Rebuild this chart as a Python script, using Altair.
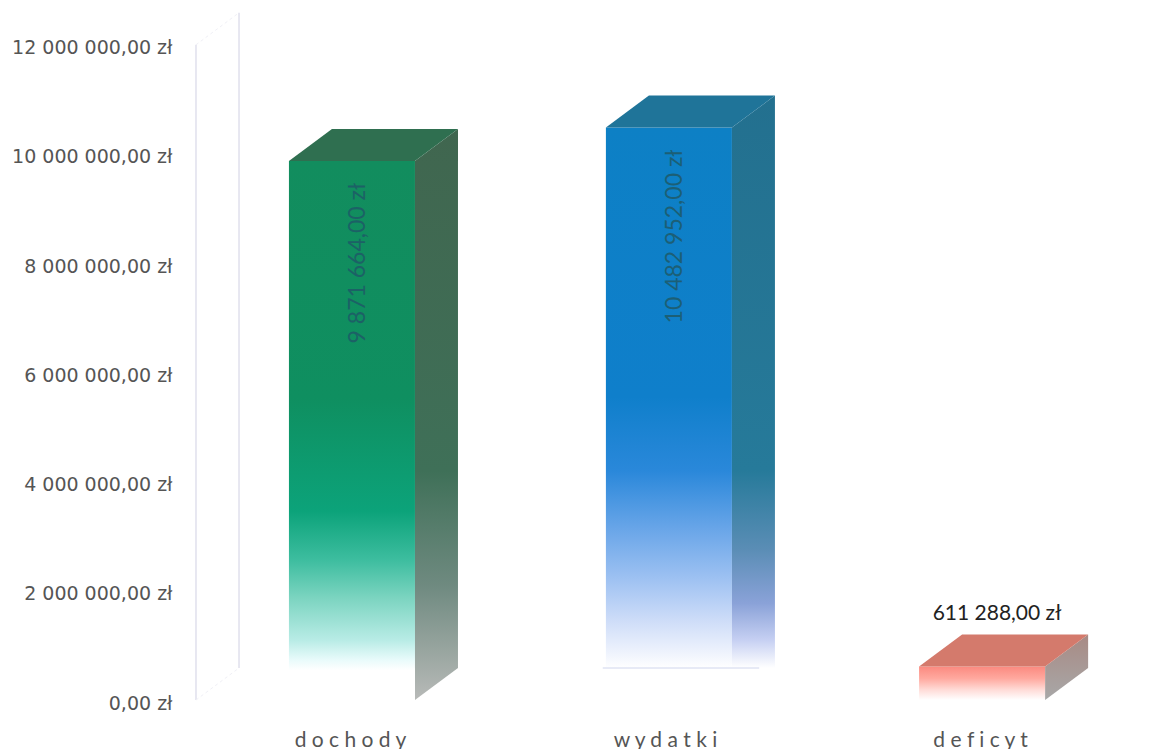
import altair as alt
import pandas as pd

categories = ["dochody", "wydatki", "deficyt"]
category_labels = ["d o c h o d y", "w y d a t k i", "d e f i c y t"]
bar_x = [0, 1.006, 2]
values = [9871664, 10482952, 611288]
value_labels = ["9 871 664,00 zł", "10 482 952,00 zł", "611 288,00 zł"]
tick_values = [0, 2000000, 4000000, 6000000, 8000000, 10000000, 12000000]
tick_labels = ["0,00 zł", "2 000 000,00 zł", "4 000 000,00 zł", "6 000 000,00 zł",
               "8 000 000,00 zł", "10 000 000,00 zł", "12 000 000,00 zł"]

BAR_W = 0.4
DEPTH_X = 0.1365
DEPTH_Y = 586000
X_DOMAIN = [-0.495, 2.425]
Y_DOMAIN = [0, 12600000]

front_stops = [
    [(0, "#128d5e"), (.44, "#0f8f60"), (.65, "#0ca37a"), (.74, "#3dbd9f"), (.81, "#7bd4c0"),
     (.89, "#b9ece6"), (.926, "#e9fbfb"), (.945, "#ffffff"), (1, "#ffffff")],
    [(0, "#0d80c5"), (.47, "#0f7fcb"), (.60, "#2a88da"), (.70, "#68a5e8"), (.79, "#9fc2f2"),
     (.86, "#cddcf8"), (.92, "#f0f4fd"), (.945, "#ffffff"), (1, "#ffffff")],
    [(0, "#fb8a80"), (.35, "#ffa89e"), (.7, "#ffdcd8"), (1, "#ffffff")],
]
side_stops = [
    [(0, "#40664f"), (.6, "#3f7058"), (.8, "#6f8a80"), (1, "#b8bab8")],
    [(0, "#23708f"), (.62, "#267a9a"), (.75, "#5a8db5"), (.84, "#8aa2d8"), (.90, "#c5cff2"), (.947, "#ffffff"), (1, "#ffffff")],
    [(0, "#a88a84"), (1, "#a8a8a8")],
]
top_colors = ["#2f6f50", "#1f7499", "#d47a6c"]
wall_color = "#e2e2ee"
floor_color = "#dfe3f3"


def gradient(stops):
    return alt.Gradient(
        gradient="linear", x1=0, x2=0, y1=0, y2=1,
        stops=[alt.GradientStop(offset=o, color=c) for o, c in stops],
    )


x_expr = str(category_labels) + "[datum.value]"
y_expr = str(tick_labels) + "[round(datum.value/2000000)]"
x = alt.X("x:Q", scale=alt.Scale(domain=X_DOMAIN, nice=False, zero=False),
          axis=alt.Axis(values=[0, 1, 2], title=None, grid=False, domain=False, ticks=False,
                        labelExpr=x_expr, labelPadding=29, labelFont="Lato", labelFontSize=21,
                        labelColor="#555555", labelAngle=0, labelOffset=-2))
y = alt.Y("y:Q", scale=alt.Scale(domain=Y_DOMAIN, nice=False),
          axis=alt.Axis(values=tick_values, title=None, grid=False, domain=False, ticks=False,
                        labelExpr=y_expr, labelPadding=24, labelFont="DejaVu Sans", labelFontSize=19,
                        labelColor="#555555", labelOffset=3))
y2 = alt.Y2("y2:Q")

layers = []

# back walls
x0 = X_DOMAIN[0]
wall_top = tick_values[-1]
walls = pd.DataFrame({
    "x": [x0, x0, x0 + DEPTH_X, x0 + DEPTH_X],
    "y": [0, wall_top, DEPTH_Y, wall_top + DEPTH_Y],
    "g": ["a", "a", "b", "b"],
})
layers.append(alt.Chart(walls).mark_line(color=wall_color, strokeWidth=1.6).encode(
    x=x, y=y, detail="g:N", order=alt.Order("y:Q")))
diag = pd.DataFrame({
    "x": [x0, x0 + DEPTH_X, x0, x0 + DEPTH_X],
    "y": [0, DEPTH_Y, wall_top, wall_top + DEPTH_Y],
    "g": ["a", "a", "b", "b"],
})
layers.append(alt.Chart(diag).mark_line(color="#f0f0f6", strokeWidth=1, strokeDash=[3, 3]).encode(
    x=x, y=y, detail="g:N"))

for i, v in enumerate(values):
    xl, xr = bar_x[i] - BAR_W / 2, bar_x[i] + BAR_W / 2
    front = pd.DataFrame({"x": [xl], "x2": [xr], "y": [0], "y2": [v]})
    layers.append(alt.Chart(front).mark_rect(color=gradient(front_stops[i])).encode(
        x=x, x2=alt.X2("x2:Q"), y=y, y2=y2))
    side = pd.DataFrame({"x": [xr, xr + DEPTH_X], "y": [v, v + DEPTH_Y], "y2": [0, DEPTH_Y]})
    layers.append(alt.Chart(side).mark_area(color=gradient(side_stops[i])).encode(x=x, y=y, y2=y2))
    top = pd.DataFrame({
        "x": [xl, xl + DEPTH_X, xr, xr + DEPTH_X],
        "y": [v, v + DEPTH_Y, v + DEPTH_Y, v + DEPTH_Y],
        "y2": [v, v, v, v + DEPTH_Y],
    })
    layers.append(alt.Chart(top).mark_area(color=top_colors[i]).encode(x=x, y=y, y2=y2))

# faint floor line under wydatki
floor = pd.DataFrame({"x": [bar_x[1] - BAR_W / 2 - 0.01, bar_x[1] + BAR_W / 2 + DEPTH_X - 0.05], "y": [DEPTH_Y, DEPTH_Y]})
layers.append(alt.Chart(floor).mark_line(color=floor_color, strokeWidth=1.5).encode(x=x, y=y))

labels = pd.DataFrame({"x": bar_x, "y": values, "t": value_labels, "i": [0, 1, 2]})
layers.append(alt.Chart(labels[labels.i < 2]).mark_text(
    angle=270, align="right", baseline="middle", dx=-22, dy=6, font="Lato", fontSize=23,
    color="#1f5a68", opacity=0.85).encode(x=x, y=y, text="t:N"))
layers.append(alt.Chart(labels[labels.i == 2]).mark_text(
    align="center", baseline="middle", dx=15, dy=-53, font="Lato", fontSize=21,
    color="#222222").encode(x=x, y=y, text="t:N"))

chart = alt.layer(*layers).properties(
    width=920, height=688,
    padding={"left": 188, "top": 4, "right": 0, "bottom": 52},
    autosize=alt.AutoSizeParams(type="none"),
).configure_view(stroke=None)

chart.save("out.html", embed_options={"renderer": "svg", "actions": False})
